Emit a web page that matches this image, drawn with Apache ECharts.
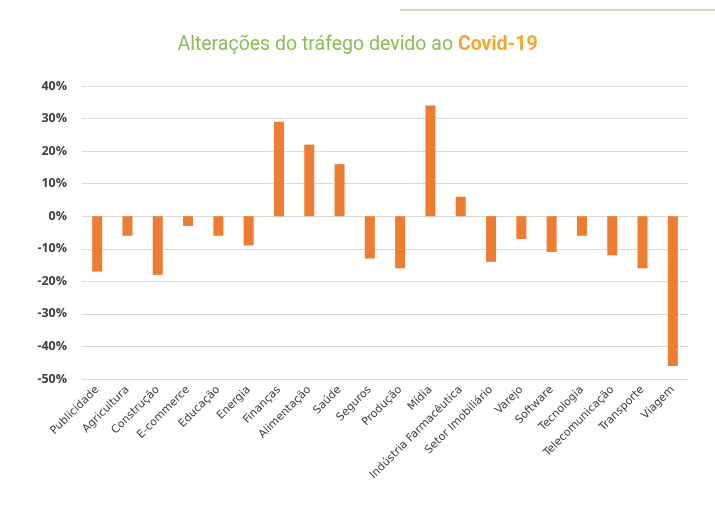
<!DOCTYPE html>
<html><head><meta charset="utf-8">
<script src="https://cdn.jsdelivr.net/npm/echarts@6/dist/echarts.min.js"></script>
<style>html,body{margin:0;padding:0;background:#fff}#c{width:715px;height:516px}</style>
</head><body><div id="c"></div>
<script>
const categories = ["Publicidade","Agricultura","Construção","E-commerce","Educação","Energia","Finanças","Alimentação","Saúde","Seguros","Produção","Mídia","Indústria Farmacêutica","Setor Imobiliário","Varejo","Software","Tecnologia","Telecomunicação","Transporte","Viagem"];
const values = [-17,-6,-18,-3,-6,-9,29,22,16,-13,-16,34,6,-14,-7,-11,-6,-12,-16,-46];
const yTicks = [-50,-40,-30,-20,-10,0,10,20,30,40];

const chart = echarts.init(document.getElementById('c'));
chart.setOption({
  animation: false,
  title: {
    text: '{a|Alterações do tráfego devido ao }{b|Covid-19}',
    left: 'center', top: 30,
    textStyle: {
      fontWeight: 'normal',
      rich: {
        a: {fontFamily: 'Roboto', fontSize: 19.5, color: '#8bbd4f', fontWeight: 'normal'},
        b: {fontFamily: 'Roboto', fontSize: 19.5, color: '#f4a92a', fontWeight: 'bold'}
      }
    }
  },
  graphic: [{type: 'line', shape: {x1: 400, y1: 10, x2: 715, y2: 10}, style: {stroke: '#9cbf6a', lineWidth: 1}}],
  grid: {left: 82, right: 27, top: 86, bottom: 137},
  xAxis: {
    type: 'category', data: categories,
    axisLine: {show: false}, axisTick: {show: false},
    axisLabel: {rotate: 45, interval: 0, margin: 9, fontFamily: 'DejaVu Sans', fontSize: 11, color: '#404040'}
  },
  yAxis: {
    type: 'value', min: yTicks[0], max: yTicks[yTicks.length-1], interval: 10,
    axisLine: {show: false}, axisTick: {show: false},
    splitLine: {lineStyle: {color: '#d9d9d9', width: 1}},
    axisLabel: {formatter: '{value}%', fontFamily: 'Open Sans', fontWeight: 'bold', fontSize: 12.5, color: '#404040', margin: 15}
  },
  series: [{
    type: 'bar', data: values, barWidth: 10,
    itemStyle: {color: '#ed7d31'}
  }]
});
</script></body></html>
